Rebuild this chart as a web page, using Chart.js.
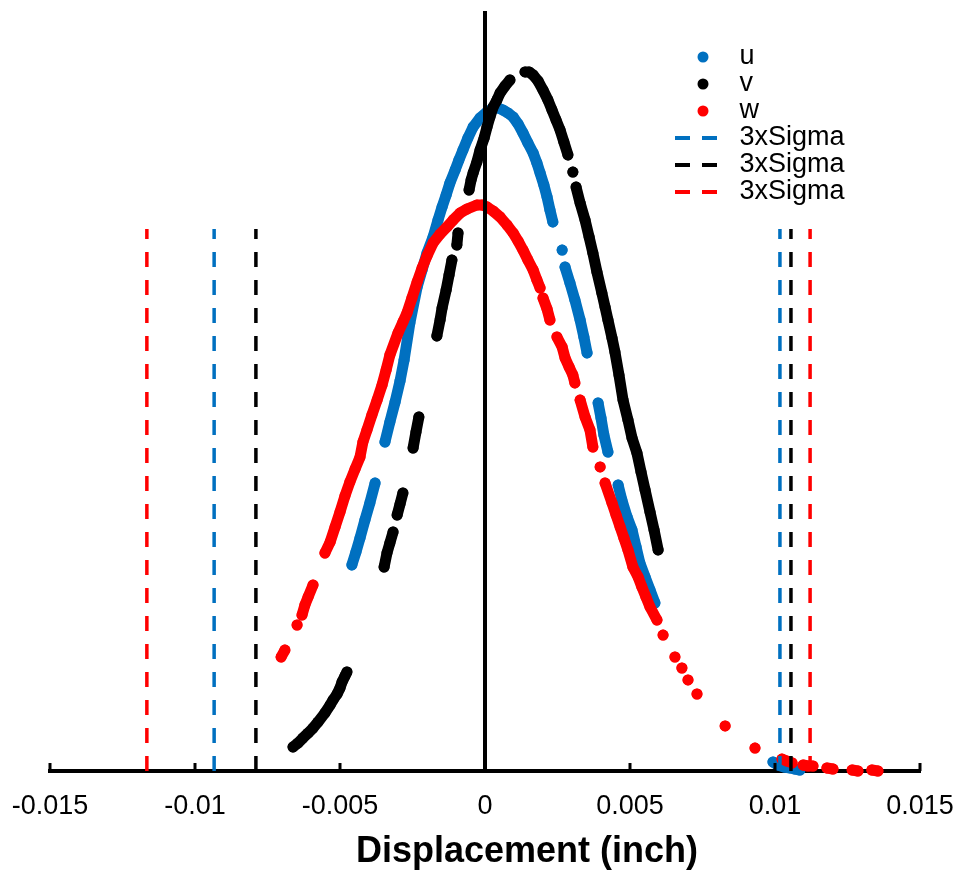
<!DOCTYPE html>
<html lang="en">
<head>
  <meta charset="UTF-8">
  <title>Displacement distribution</title>
  <script src="https://cdn.jsdelivr.net/npm/chart.js"></script>
  <style>
    body { margin: 0; background: #fff; }
    #wrap { width: 959px; height: 874px; }
  </style>
</head>
<body>
  <div id="wrap"><canvas id="dispChart"></canvas></div>

  <script>
    // x axis ticks
    const tickValues = [-0.015, -0.01, -0.005, 0, 0.005, 0.01, 0.015];
    const tickLabels = ['-0.015', '-0.01', '-0.005', '0', '0.005', '0.01', '0.015'];
    const axisTitle = 'Displacement (inch)';

    // u samples (displacement, relative count); null = gap between runs of dots
    const uX = [-0.00459, -0.00445, -0.00431, -0.00414, -0.00397, -0.00379, null,
      -0.00345, -0.00328, -0.00310, -0.00293, -0.00279, -0.00259, -0.00234, -0.00217, -0.00200, -0.00179,
      -0.00162, -0.00148, -0.00134, -0.00121, -0.00103, -0.00090, -0.00076, -0.00059, -0.00041, -0.00017,
      0.00007, 0.00028, 0.00045, 0.00062, 0.00079, 0.00097, 0.00114, 0.00131, 0.00148, 0.00166, 0.00179,
      0.00190, 0.00203, 0.00214, 0.00224, 0.00234, null,
      0.00266, null,
      0.00276, 0.00293, 0.00310, 0.00328, 0.00341, 0.00352, null,
      0.00390, 0.00400, 0.00410, 0.00424, null,
      0.00459, 0.00472, 0.00490, 0.00507, 0.00521, 0.00534, 0.00552, 0.00569, 0.00586, null,
      0.00993, 0.01010, 0.01031, 0.01052, 0.01069, 0.01086];
    const uY = [27.18, 28.89, 30.74, 33.11, 35.36, 37.99, null,
      43.40, 46.04, 48.68, 51.45, 54.22, 59.10, 63.85, 66.09, 68.34, 70.45,
      72.69, 74.41, 75.99, 77.57, 79.29, 80.61, 81.93, 83.51, 84.96, 86.15,
      86.94, 87.47, 87.47, 87.20, 86.81, 86.28, 85.36, 84.17, 82.85, 81.53, 80.21,
      78.89, 77.31, 75.73, 74.01, 72.43, null,
      68.73, null,
      66.49, 64.38, 62.14, 59.50, 57.26, 55.15, null,
      48.55, 46.57, 44.33, 42.08, null,
      37.73, 35.75, 33.51, 31.79, 29.55, 27.44, 25.59, 23.88, 22.16, null,
      1.19, 0.79, 0.53, 0.40, 0.26, 0.13];

    // v samples
    const vX = [-0.00662, -0.00645, -0.00628, -0.00610, -0.00593, -0.00576, -0.00552, -0.00534, -0.00524,
      -0.00510, -0.00500, -0.00493, -0.00483, -0.00476, null,
      -0.00348, -0.00338, -0.00328, -0.00317, null,
      -0.00303, -0.00293, -0.00283, null,
      -0.00248, -0.00238, -0.00228, null,
      -0.00166, -0.00155, -0.00148, -0.00134, -0.00124, -0.00114, null,
      -0.00097, -0.00093, null,
      -0.00055, -0.00048, -0.00041, -0.00028, -0.00017, -0.00003, 0.00007, 0.00017, 0.00028, 0.00041,
      0.00052, 0.00069, 0.00086, null,
      0.00138, 0.00152, 0.00166, 0.00183, 0.00200, 0.00217, 0.00231, 0.00245, 0.00259, 0.00272, 0.00286, null,
      0.00303, null,
      0.00314, 0.00328, 0.00345, 0.00359, 0.00372, 0.00386, 0.00403, 0.00414, 0.00424, 0.00438, 0.00448,
      0.00462, 0.00476, 0.00493, 0.00507, 0.00524, 0.00538, 0.00552, 0.00569, 0.00583, 0.00597];
    const vY = [3.17, 3.69, 4.35, 5.01, 5.67, 6.46, 7.65, 8.71, 9.37,
      10.16, 10.95, 11.74, 12.53, 13.06, null,
      26.91, 28.76, 30.08, 31.53, null,
      33.77, 35.22, 36.68, null,
      42.61, 44.72, 46.70, null,
      57.39, 59.50, 61.08, 63.46, 65.44, 67.41, null,
      69.39, 70.98, null,
      76.65, 77.97, 78.89, 80.34, 81.93, 83.51, 84.96, 86.28, 87.60, 88.52,
      89.45, 90.37, 91.16, null,
      92.22, 92.22, 91.82, 91.03, 89.84, 88.52, 87.20, 85.88, 84.56, 82.98, 81.27, null,
      79.02, null,
      77.04, 74.93, 72.69, 70.45, 68.34, 65.83, 63.06, 61.21, 59.50, 57.12, 55.28,
      52.24, 48.94, 46.31, 43.93, 41.95, 39.45, 37.07, 34.17, 31.79, 29.16];

    // w samples
    const wX = [-0.00703, -0.00690, null,
      -0.00648, null,
      -0.00631, -0.00621, -0.00610, -0.00593, null,
      -0.00552, -0.00534, -0.00517, -0.00500, -0.00483, -0.00466, -0.00448, -0.00431, -0.00421, -0.00407,
      -0.00390, -0.00372, -0.00355, -0.00341, -0.00328, -0.00300, -0.00283, -0.00269, -0.00252, -0.00234,
      -0.00217, -0.00200, -0.00179, -0.00155, -0.00131, -0.00110, -0.00086, -0.00062, -0.00028, -0.00010,
      0.00007, 0.00028, 0.00052, 0.00076, 0.00097, 0.00114, 0.00131, 0.00148, 0.00166, 0.00179, 0.00190, null,
      0.00200, 0.00214, 0.00224, null,
      0.00248, 0.00266, 0.00276, 0.00290, 0.00303, 0.00310, null,
      0.00328, 0.00345, 0.00362, 0.00372, null,
      0.00397, null,
      0.00414, 0.00438, 0.00452, 0.00466, 0.00479, 0.00493, 0.00510, 0.00528, 0.00541, 0.00555, 0.00569,
      0.00593, null,
      0.00614, null, 0.00655, null, 0.00679, null, 0.00700, null, 0.00731, null, 0.00828, null, 0.00931, null,
      0.01024, 0.01041, 0.01059, null,
      0.01097, 0.01114, 0.01131, null,
      0.01179, 0.01200, null,
      0.01266, 0.01286, null,
      0.01334, 0.01355];
    const wY = [15.04, 15.96, null,
      19.26, null,
      20.58, 21.90, 22.96, 24.54, null,
      28.76, 30.21, 32.19, 34.17, 36.28, 38.13, 39.84, 41.42, 43.40, 44.99,
      46.97, 48.94, 50.92, 52.90, 54.88, 57.78, 59.23, 60.42, 62.40, 64.51,
      66.36, 67.94, 69.66, 70.84, 71.77, 72.69, 73.61, 74.14, 74.67, 74.67,
      74.41, 73.88, 73.09, 72.03, 70.98, 69.92, 68.73, 67.41, 66.09, 64.78, 63.72, null,
      62.40, 60.95, 59.50, null,
      57.26, 55.94, 54.49, 53.30, 52.24, 51.19, null,
      48.94, 46.70, 44.99, 42.74, null,
      40.11, null,
      37.99, 35.36, 33.77, 32.19, 30.74, 29.16, 26.91, 25.59, 24.27, 22.96, 21.64,
      19.92, null,
      17.94, null, 15.04, null, 13.59, null, 12.01, null, 10.16, null, 5.94, null, 3.03, null,
      1.58, 1.32, 1.06, null,
      0.79, 0.66, 0.66, null,
      0.40, 0.26, null,
      0.13, 0, null,
      0.13, 0];

    // 3 x sigma limits [left, right] and height of the marker lines
    const sigmaU = [-0.00934, 0.01017];
    const sigmaV = [-0.00790, 0.01055];
    const sigmaW = [-0.01166, 0.01121];
    const sigmaTop = 71.5;

    const BLUE = '#0070C0', BLACK = '#000000', RED = '#FF0000';
    const FONT = "'Liberation Sans', Arial, sans-serif";

    const toPoints = (xs, ys) => xs.map((x, i) => ({ x: x, y: ys[i] }));
    const sigmaPoints = (lim) => [
      { x: lim[0], y: 0 }, { x: lim[0], y: sigmaTop }, { x: lim[0], y: null },
      { x: lim[1], y: 0 }, { x: lim[1], y: sigmaTop }
    ];

    // dense runs of dots are drawn as a thick round-capped trace plus the dots themselves
    function scatterSet(label, xs, ys, color, order) {
      return {
        label: label, data: toPoints(xs, ys), showLine: true, spanGaps: false,
        borderColor: color, backgroundColor: color, borderWidth: 11,
        borderCapStyle: 'round', borderJoinStyle: 'round', tension: 0,
        pointRadius: 5.5, pointHoverRadius: 5.5, pointBorderWidth: 0,
        clip: false, order: order
      };
    }
    function sigmaSet(lim, color) {
      return {
        label: '3xSigma', data: sigmaPoints(lim), showLine: true, borderColor: color,
        backgroundColor: color, borderWidth: 3.5, borderDash: [15, 13], pointRadius: 0,
        pointHoverRadius: 0, spanGaps: false, fill: false, order: 0
      };
    }

    // legend symbols (circle or dash), same width as the legend box
    const BOX_W = 51;
    const symbolCache = {};
    function legendSymbol(color, dashed) {
      const key = color + dashed;
      if (symbolCache[key]) return symbolCache[key];
      const c = document.createElement('canvas');
      c.width = BOX_W; c.height = 12;
      const g = c.getContext('2d');
      if (dashed) {
        g.strokeStyle = color; g.lineWidth = 4;
        g.setLineDash([15, 12]);
        g.beginPath(); g.moveTo(0, 6); g.lineTo(43, 6); g.stroke();
      } else {
        g.fillStyle = color;
        g.beginPath(); g.arc(28, 6, 5.5, 0, Math.PI * 2); g.fill();
      }
      symbolCache[key] = c;
      return c;
    }

    // move legend into the upper right of the plot
    const legendPlace = {
      id: 'legendPlace',
      afterLayout(chart) {
        const lg = chart.legend;
        const pad = lg.options.labels.padding;
        const size = lg.options.labels.font.size;
        lg.left = 675 - pad;
        lg.right = lg.left + lg.width;
        lg.top = 57 - size / 2 - pad;
        lg.bottom = chart.chartArea.bottom;
        lg.height = lg.bottom - lg.top;
      }
    };

    // short tick marks pointing up from the x axis, and the axis title
    const axisDecor = {
      id: 'axisDecor',
      afterDraw(chart) {
        const xs = chart.scales.x;
        const area = chart.chartArea;
        const ctx = chart.ctx;
        ctx.save();
        ctx.strokeStyle = '#000';
        ctx.lineWidth = 3;
        tickValues.forEach(v => {
          const px = Math.round(xs.getPixelForValue(v));
          ctx.beginPath(); ctx.moveTo(px, area.bottom); ctx.lineTo(px, area.bottom - 8); ctx.stroke();
        });
        ctx.fillStyle = '#000';
        ctx.font = 'bold 36px ' + FONT;
        ctx.textAlign = 'center';
        ctx.textBaseline = 'middle';
        ctx.fillText(axisTitle, (area.left + area.right) / 2 + 42, xs.bottom - 22);
        ctx.restore();
      }
    };

    const ctx = document.getElementById('dispChart').getContext('2d');
    new Chart(ctx, {
      type: 'scatter',
      data: {
        datasets: [
          scatterSet('u', uX, uY, BLUE, 3),
          scatterSet('v', vX, vY, BLACK, 2),
          scatterSet('w', wX, wY, RED, 1),
          sigmaSet(sigmaU, BLUE),
          sigmaSet(sigmaV, BLACK),
          sigmaSet(sigmaW, RED)
        ]
      },
      options: {
        responsive: true,
        maintainAspectRatio: false,
        animation: false,
        layout: { padding: { left: 50, right: 39, top: 13, bottom: 0 } },
        plugins: {
          tooltip: { enabled: false },
          legend: {
            position: 'chartArea',
            align: 'start',
            labels: {
              usePointStyle: true,
              pointStyleWidth: BOX_W,
              padding: 0,
              color: '#000',
              font: { family: FONT, size: 27 },
              generateLabels(chart) {
                return chart.data.datasets.map((ds, i) => {
                  const dashed = !!ds.borderDash;
                  return {
                    text: ds.label, datasetIndex: i, hidden: false,
                    fillStyle: ds.borderColor, strokeStyle: ds.borderColor, lineWidth: 0,
                    fontColor: '#000', pointStyle: legendSymbol(ds.borderColor, dashed)
                  };
                });
              }
            }
          }
        },
        scales: {
          x: {
            type: 'linear',
            min: -0.015,
            max: 0.015,
            afterBuildTicks: (scale) => { scale.ticks = tickValues.map(v => ({ value: v })); },
            afterFit: (scale) => { scale.height = 103; },
            grid: { display: false, drawTicks: true, tickLength: 15 },
            border: { display: true, color: '#000', width: 4 },
            ticks: {
              autoSkip: false, maxRotation: 0, padding: 4, color: '#000',
              font: { family: FONT, size: 27 },
              callback: (value, index) => tickLabels[index]
            }
          },
          y: {
            type: 'linear',
            min: 0,
            max: 100,
            position: { x: 0 },
            grid: { display: false, drawTicks: false },
            ticks: { display: false },
            border: { display: true, color: '#000', width: 4, z: 1 }
          }
        }
      },
      plugins: [legendPlace, axisDecor]
    });
  </script>
</body>
</html>
